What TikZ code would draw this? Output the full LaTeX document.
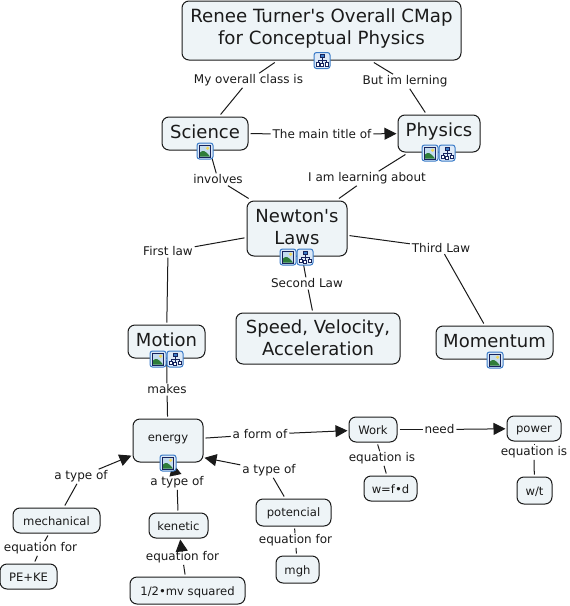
\documentclass[tikz,border=0pt]{standalone}
\usepackage{fontspec}
\setmainfont[Ligatures=TeXOff]{DejaVu Sans}
\usetikzlibrary{arrows.meta}
\definecolor{boxfill}{HTML}{EEF4F7}
\definecolor{ink}{HTML}{1A1A1A}
\definecolor{iconblue}{HTML}{3A7BC8}
\definecolor{iconpale}{HTML}{DDE9F7}
\definecolor{iconnavy}{HTML}{16235C}
\definecolor{iconsky}{HTML}{C4DCEF}
\definecolor{icongreen}{HTML}{2E7D3A}
\definecolor{iconsun}{HTML}{F1D75A}
\newcommand{\ctext}[3]{\raisebox{\dimexpr #1pt-#2pt*33/100\relax}[0pt][0pt]{\fontsize{#2}{22}\selectfont\begin{tabular}{@{}c@{}}#3\end{tabular}}}
\tikzset{
  x=1pt,y=-1pt,
  concept/.style={draw=ink,fill=boxfill,rounded corners=7pt,line width=1pt,inner sep=0pt,outer sep=2.5pt,text=ink},
  linklabel/.style={inner xsep=1.5pt,inner ysep=1pt,outer sep=0.5pt,text=ink,font=\fontsize{12}{14}\selectfont},
  edge/.style={draw=ink,line width=1pt},
  arrowedge/.style={edge,-{Triangle[length=12pt,width=12pt]},shorten >=-1pt},
  imgicon/.pic={
    \draw[iconblue,fill=iconpale,rounded corners=2.5pt,line width=1pt] (-8,-8) rectangle (8,8);
    \draw[iconnavy,fill=iconsky,line width=0.8pt] (-5.5,-6) rectangle (5.5,6);
    \fill[icongreen] (-5,5.6) -- (-5,1.5) .. controls (-2,-1) and (0,-1) .. (5,5.6) -- cycle;
    \fill[iconsun] (2.6,-2.8) circle (1.7);
  },
  mapicon/.pic={
    \draw[iconblue,fill=iconpale,rounded corners=2.5pt,line width=1pt] (-8,-8) rectangle (8,8);
    \draw[iconnavy,line width=0.9pt] (0,-3) -- (0,4) (-4,0) -- (4.5,0) (-4,0) -- (-4,3) (4.5,0) -- (4.5,3);
    \draw[iconnavy,fill=iconblue,line width=0.8pt] (-2,-6) rectangle (2,-3);
    \draw[iconnavy,fill=white,line width=0.8pt] (-6,2) rectangle (-2.5,5.5) (-1.7,3) rectangle (1.7,6) (3,2) rectangle (6.5,5.5);
  }
}
\begin{document}
\begin{tikzpicture}
\useasboundingbox (0,0) rectangle (570,606);
% concepts
\node[concept,minimum width=279pt,minimum height=59pt] (title) at (321.5,30.5) {\ctext{3}{18.2}{Renee Turner's Overall CMap\\for Conceptual Physics}};
\node[concept,minimum width=86pt,minimum height=33pt] (science) at (205,133.5) {\ctext{1.5}{18}{Science}};
\node[concept,minimum width=82pt,minimum height=37pt] (physics) at (439,133.5) {\ctext{3}{18}{Physics}};
\node[concept,minimum width=100pt,minimum height=55pt] (newton) at (297,228.5) {\ctext{1.5}{18}{Newton's\\Laws}};
\node[concept,minimum width=77pt,minimum height=33pt] (motion) at (166.5,341.5) {\ctext{1.5}{18}{Motion}};
\node[concept,minimum width=164pt,minimum height=51pt] (speed) at (318,338.5) {\ctext{0}{18}{Speed, Velocity,\\Acceleration}};
\node[concept,minimum width=117pt,minimum height=33pt] (momentum) at (494.5,342.5) {\ctext{1.5}{18}{Momentum}};
\node[concept,minimum width=70pt,minimum height=43pt] (energy) at (168,440.5) {\ctext{4.5}{11.6}{energy}};
\node[concept,minimum width=48pt,minimum height=25pt] (work) at (373,429.5) {\ctext{0}{11.6}{Work}};
\node[concept,minimum width=54pt,minimum height=25pt] (power) at (534,428.5) {\ctext{1}{11.6}{power}};
\node[concept,minimum width=53pt,minimum height=25pt] (wfd) at (390.5,488.5) {\ctext{0}{11.6}{w=f•d}};
\node[concept,minimum width=35pt,minimum height=27pt] (wt) at (534.5,490.5) {\ctext{0}{11.6}{w/t}};
\node[concept,minimum width=87pt,minimum height=25pt] (mech) at (56.5,520.5) {\ctext{0}{11.6}{mechanical\hspace{3pt}}};
\node[concept,minimum width=57pt,minimum height=25pt] (peke) at (28.5,576.5) {\ctext{0}{11.6}{PE+KE}};
\node[concept,minimum width=59pt,minimum height=25pt] (kenetic) at (178.5,525.5) {\ctext{0}{11.6}{kenetic}};
\node[concept,minimum width=115pt,minimum height=27pt] (half) at (187.5,590.5) {\ctext{0}{11.6}{1/2•mv squared}};
\node[concept,minimum width=75pt,minimum height=27pt] (potencial) at (293.5,512.5) {\ctext{1}{11.6}{potencial}};
\node[concept,minimum width=43pt,minimum height=27pt] (mgh) at (297.5,569.5) {\ctext{0}{11.6}{mgh}};
% link labels
\node[linklabel] (lclass) at (248.5,80.5) {My overall class is};
\node[linklabel] (llern) at (405,81.5) {But im lerning};
\node[linklabel] (lmain) at (322,134) {The main title of};
\node[linklabel] (linv) at (218,179.5) {involves};
\node[linklabel] (llearn) at (367,178.5) {I am learning about};
\node[linklabel] (lfirst) at (168,251.5) {First law};
\node[linklabel] (lsecond) at (307,283.5) {Second Law};
\node[linklabel] (lthird) at (441,248) {Third Law};
\node[linklabel] (lmakes) at (167,389.5) {makes};
\node[linklabel] (lform) at (260,434.5) {a form of};
\node[linklabel] (lneed) at (439.5,429.5) {need};
\node[linklabel] (leqw) at (382,458.5) {equation is};
\node[linklabel] (leqp) at (534,452.5) {equation is};
\node[linklabel] (ltm) at (81,476.5) {a type of};
\node[linklabel] (ltk) at (177,482.5) {a type of};
\node[linklabel] (ltp) at (269,470.5) {a type of};
\node[linklabel] (lem) at (40.5,548.5) {equation for};
\node[linklabel] (lek) at (182.5,557.5) {equation for};
\node[linklabel] (lep) at (295.5,540.5) {equation for};
% connectors
\draw[edge] (title) -- (lclass);
\draw[edge] (lclass) -- (science);
\draw[edge] (title) -- (llern);
\draw[edge] (llern) -- (physics);
\draw[edge] (science) -- (lmain);
\draw[arrowedge] (lmain) -- (physics);
\draw[edge] (science) -- (linv);
\draw[edge] (linv) -- (newton);
\draw[edge] (physics) -- (llearn);
\draw[edge] (llearn) -- (newton);
\draw[edge] (newton) -- (lfirst);
\draw[edge] (lfirst) -- (motion);
\draw[edge] (newton) -- (lsecond);
\draw[edge] (lsecond) -- (speed);
\draw[edge] (newton) -- (lthird);
\draw[edge] (lthird) -- (momentum);
\draw[edge] (motion) -- (lmakes);
\draw[edge] (lmakes) -- (energy);
\draw[edge] (energy) -- (lform);
\draw[arrowedge] (lform) -- (work);
\draw[edge] (work) -- (lneed);
\draw[arrowedge] (lneed) -- (power);
\draw[edge] (work) -- (leqw);
\draw[edge] (leqw) -- (wfd);
\draw[edge] (power) -- (leqp);
\draw[edge] (leqp) -- (wt);
\draw[edge] (mech) -- (ltm);
\draw[arrowedge] (ltm) -- (energy);
\draw[edge] (kenetic) -- (ltk);
\draw[arrowedge] (ltk) -- (energy);
\draw[edge] (potencial) -- (ltp);
\draw[arrowedge] (ltp) -- (energy.-25);
\draw[edge] (mech) -- (lem);
\draw[edge] (lem) -- (peke);
\draw[edge] (half) -- (lek);
\draw[arrowedge] (lek) -- (kenetic);
\draw[edge] (potencial) -- (lep);
\draw[edge] (lep) -- (mgh);
% icons
\pic at (322,60.5) {mapicon};
\pic at (205,151) {imgicon};
\pic at (430,153) {imgicon};
\pic at (447,153) {mapicon};
\pic at (288,257) {imgicon};
\pic at (305,257) {mapicon};
\pic at (158,359) {imgicon};
\pic at (175,359) {mapicon};
\pic at (495,360) {imgicon};
\pic at (168,463) {imgicon};
\end{tikzpicture}
\end{document}
